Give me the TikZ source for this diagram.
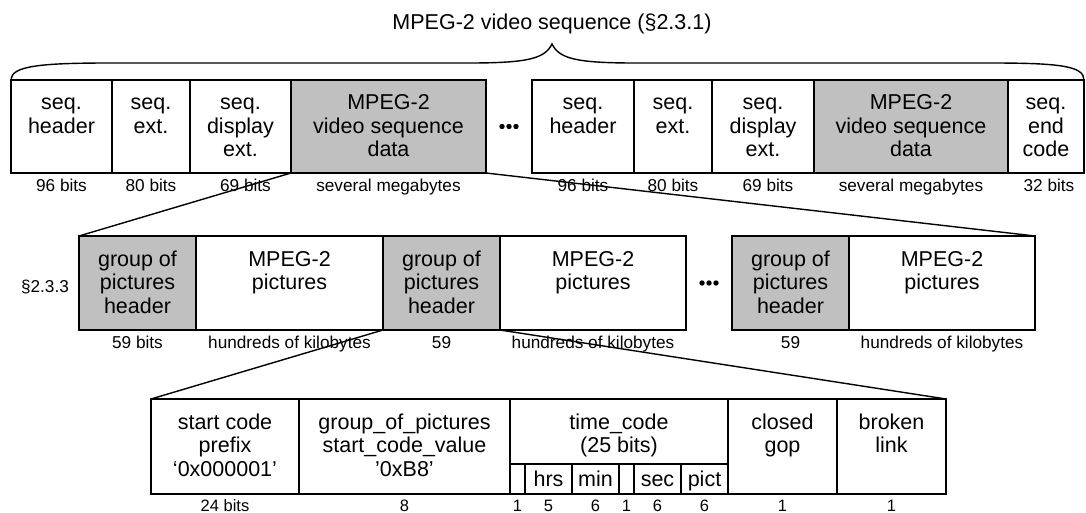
\documentclass[tikz,border=0pt]{standalone}
\usepackage{fontspec}
\setmainfont{Liberation Sans}
\definecolor{boxgray}{RGB}{192,192,192}
% multi-line cell text, baseline on its first line
\newcommand\ml[1]{\parbox[t]{7cm}{\centering #1}}
\begin{document}
\begin{tikzpicture}[x=1pt,y=-1pt,
  cellbox/.style={draw=black,line width=1.4pt,anchor=north west,inner sep=0pt,outer sep=0pt},
  shaded/.style={cellbox,fill=boxgray},
  rowA/.style={minimum height=93pt},
  rowB/.style={minimum height=94pt},
  rowC/.style={minimum height=95pt},
  subcell/.style={draw=black,line width=1.8pt,anchor=north west,inner sep=0pt,outer sep=0pt,minimum height=30pt},
  boxtext/.style={anchor=base,inner sep=0pt,font=\fontsize{21.5}{23.5}\selectfont},
  sizelabel/.style={anchor=base,inner sep=0pt,font=\fontsize{17.2}{20}\selectfont},
  smalllabel/.style={anchor=base,inner sep=0pt,font=\fontsize{16.5}{19}\selectfont},
  link/.style={draw=black,line width=1.4pt},
  dot/.style={fill=black}
]
\useasboundingbox (0,0) rectangle (1086,513);

% ---------- title and brace ----------
\node[boxtext] (title) at (552,30) {MPEG-2 video sequence (§2.3.1)};
\draw[line width=1.4pt] (11,80) .. controls (11,66) and (40,63) .. (110,63) -- (470,63)
  .. controls (530,63) and (545,58) .. (552,44)
  .. controls (559,58) and (574,63) .. (634,63) -- (990,63)
  .. controls (1060,63) and (1084,66) .. (1084,80);

% ---------- video sequence row ----------
\node[cellbox,rowA,minimum width=101pt] (sh1) at (11,80) {};
\node[cellbox,rowA,minimum width=78pt]  (se1) at (112,80) {};
\node[cellbox,rowA,minimum width=101pt] (sd1) at (190,80) {};
\node[shaded,rowA,minimum width=195pt]  (vd1) at (291,80) {};
\node[cellbox,rowA,minimum width=102pt] (sh2) at (532,80) {};
\node[cellbox,rowA,minimum width=78pt]  (se2) at (634,80) {};
\node[cellbox,rowA,minimum width=102pt] (sd2) at (712,80) {};
\node[shaded,rowA,minimum width=194pt]  (vd2) at (814,80) {};
\node[cellbox,rowA,minimum width=76pt]  (ec)  at (1008,80) {};

\node[boxtext] (sh1t) at ([yshift=-30pt]sh1.north) {\ml{seq.\\header}};
\node[boxtext] (se1t) at ([yshift=-30pt]se1.north) {\ml{seq.\\ext.}};
\node[boxtext] (sd1t) at ([yshift=-30pt]sd1.north) {\ml{seq.\\display\\ext.}};
\node[boxtext] (vd1t) at ([yshift=-30pt]vd1.north) {\ml{MPEG-2\\video sequence\\data}};
\node[boxtext] (sh2t) at ([yshift=-30pt]sh2.north) {\ml{seq.\\header}};
\node[boxtext] (se2t) at ([yshift=-30pt]se2.north) {\ml{seq.\\ext.}};
\node[boxtext] (sd2t) at ([yshift=-30pt]sd2.north) {\ml{seq.\\display\\ext.}};
\node[boxtext] (vd2t) at ([yshift=-30pt]vd2.north) {\ml{MPEG-2\\video sequence\\data}};
\node[boxtext] (ect)  at ([yshift=-30pt]ec.north)  {\ml{seq.\\end\\code}};

\fill[dot] (502,126.5) circle (2.7pt) (509,126.5) circle (2.7pt) (516,126.5) circle (2.7pt);

\node[sizelabel] (sh1l) at ([yshift=-18pt]sh1.south) {96 bits};
\node[sizelabel] (se1l) at ([yshift=-18pt]se1.south) {80 bits};
\node[sizelabel] (sd1l) at ([xshift=5pt,yshift=-18pt]sd1.south) {69 bits};
\node[sizelabel] (vd1l) at ([yshift=-18pt]vd1.south) {several megabytes};
\node[sizelabel] (sh2l) at ([yshift=-18pt]sh2.south) {96 bits};
\node[sizelabel] (se2l) at ([yshift=-18pt]se2.south) {80 bits};
\node[sizelabel] (sd2l) at ([xshift=5pt,yshift=-18pt]sd2.south) {69 bits};
\node[sizelabel] (vd2l) at ([yshift=-18pt]vd2.south) {several megabytes};
\node[sizelabel] (ecl)  at ([xshift=3pt,yshift=-18pt]ec.south) {32 bits};

% ---------- group of pictures row ----------
\node[sizelabel] (gopsec) at (45,292) {§2.3.3};
\node[shaded,rowB,minimum width=117pt]  (gA) at (79,236) {};
\node[cellbox,rowB,minimum width=187pt] (pA) at (196,236) {};
\node[shaded,rowB,minimum width=117pt]  (gB) at (383,236) {};
\node[cellbox,rowB,minimum width=186pt] (pB) at (500,236) {};
\node[shaded,rowB,minimum width=117pt]  (gC) at (732,236) {};
\node[cellbox,rowB,minimum width=186pt] (pC) at (849,236) {};

\node[boxtext] (gAt) at ([yshift=-30pt]gA.north) {\ml{group of\\pictures\\header}};
\node[boxtext] (pAt) at ([yshift=-30pt]pA.north) {\ml{MPEG-2\\pictures}};
\node[boxtext] (gBt) at ([yshift=-30pt]gB.north) {\ml{group of\\pictures\\header}};
\node[boxtext] (pBt) at ([yshift=-30pt]pB.north) {\ml{MPEG-2\\pictures}};
\node[boxtext] (gCt) at ([yshift=-30pt]gC.north) {\ml{group of\\pictures\\header}};
\node[boxtext] (pCt) at ([yshift=-30pt]pC.north) {\ml{MPEG-2\\pictures}};

\fill[dot] (702,283) circle (2.7pt) (709,283) circle (2.7pt) (716,283) circle (2.7pt);

\node[sizelabel] (gAl) at ([yshift=-18pt]gA.south) {59 bits};
\node[sizelabel] (pAl) at ([yshift=-18pt]pA.south) {hundreds of kilobytes};
\node[sizelabel] (gBl) at ([yshift=-18pt]gB.south) {59};
\node[sizelabel] (pBl) at ([yshift=-18pt]pB.south) {hundreds of kilobytes};
\node[sizelabel] (gCl) at ([yshift=-18pt]gC.south) {59};
\node[sizelabel] (pCl) at ([yshift=-18pt]pC.south) {hundreds of kilobytes};

% ---------- group of pictures header fields ----------
\node[cellbox,rowC,minimum width=148pt] (sc) at (151,399) {};
\node[cellbox,rowC,minimum width=211pt] (gv) at (299,399) {};
\node[cellbox,rowC,minimum width=218pt] (tc) at (510,399) {};
\node[cellbox,rowC,minimum width=109pt] (cg) at (728,399) {};
\node[cellbox,rowC,minimum width=109pt] (bl) at (837,399) {};

\node[subcell,minimum width=15pt] (tm1) at (510,464) {};
\node[subcell,minimum width=47pt] (tm2) at (525,464) {};
\node[subcell,minimum width=47pt] (tm3) at (572,464) {};
\node[subcell,minimum width=15pt] (tm4) at (619,464) {};
\node[subcell,minimum width=47pt] (tm5) at (634,464) {};
\node[subcell,minimum width=47pt] (tm6) at (681,464) {};

\node[boxtext] (sct) at ([yshift=-30pt]sc.north) {\ml{start code\\prefix\\‘0x000001’}};
\node[boxtext] (gvt) at ([yshift=-30pt]gv.north) {\ml{group\_of\_pictures\\start\_code\_value\\’0xB8’}};
\node[boxtext] (tct) at ([yshift=-30pt]tc.north) {\ml{time\_code\\(25 bits)}};
\node[boxtext] (cgt) at ([yshift=-30pt]cg.north) {\ml{closed\\gop}};
\node[boxtext] (blt) at ([yshift=-30pt]bl.north) {\ml{broken\\link}};

\node[boxtext] (tm2t) at ([yshift=-22pt]tm2.north) {hrs};
\node[boxtext] (tm3t) at ([yshift=-22pt]tm3.north) {min};
\node[boxtext] (tm5t) at ([yshift=-22pt]tm5.north) {sec};
\node[boxtext] (tm6t) at ([yshift=-22pt]tm6.north) {pict};

\node[smalllabel] (scl)  at ([yshift=-17pt]sc.south)  {24 bits};
\node[smalllabel] (gvl)  at ([yshift=-17pt]gv.south)  {8};
\node[smalllabel] (tm1l) at ([yshift=-17pt]tm1.south) {1};
\node[smalllabel] (tm2l) at ([yshift=-17pt]tm2.south) {5};
\node[smalllabel] (tm3l) at ([yshift=-17pt]tm3.south) {6};
\node[smalllabel] (tm4l) at ([yshift=-17pt]tm4.south) {1};
\node[smalllabel] (tm5l) at ([yshift=-17pt]tm5.south) {6};
\node[smalllabel] (tm6l) at ([yshift=-17pt]tm6.south) {6};
\node[smalllabel] (cgl)  at ([yshift=-17pt]cg.south)  {1};
\node[smalllabel] (bll)  at ([yshift=-17pt]bl.south)  {1};

% ---------- expansion lines ----------
\draw[link] (vd1.south west) -- (gA.north west);
\draw[link] (vd1.south east) -- (pC.north east);
\draw[link] (gB.south west) -- (sc.north west);
\draw[link] (gB.south east) -- (bl.north east);
\end{tikzpicture}
\end{document}
